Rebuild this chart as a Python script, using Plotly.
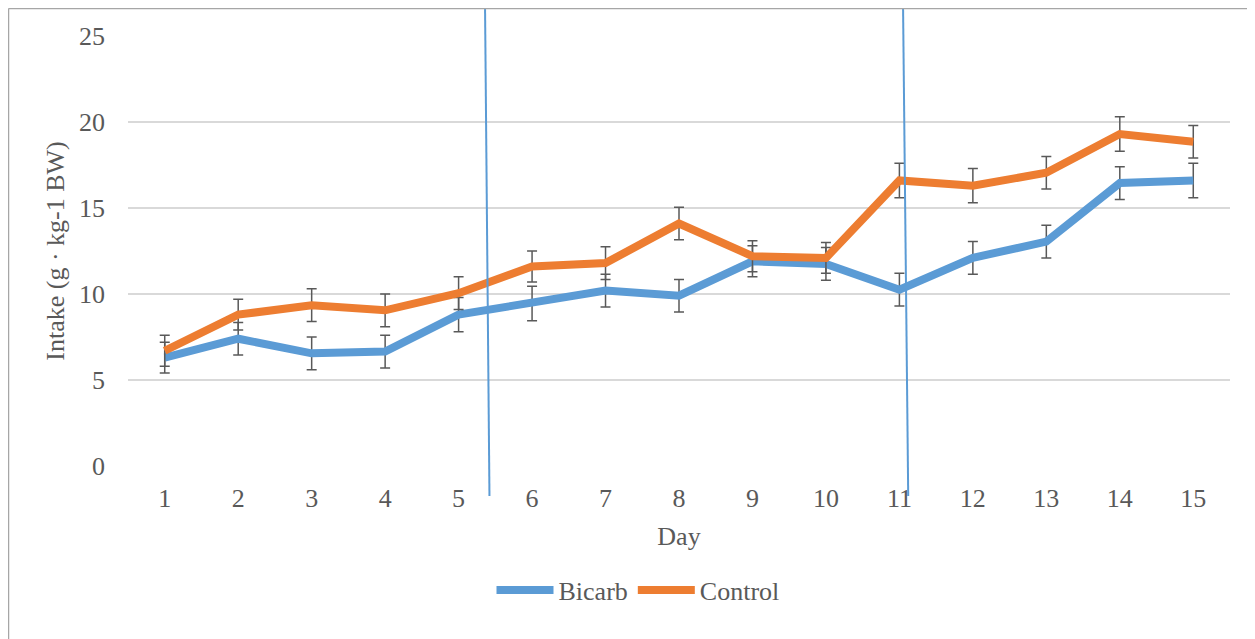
import plotly.graph_objects as go

days = list(range(1, 16))
day_labels = [str(d) for d in days]

bicarb = [6.3, 7.4, 6.55, 6.65, 8.8, 9.45, 10.2, 9.9, 11.9, 11.75, 10.25, 12.1, 13.05, 16.45, 16.6]
bicarb_err = [0.9, 0.95, 0.95, 0.95, 1.0, 1.0, 0.95, 0.95, 0.9, 0.95, 0.95, 0.95, 0.95, 0.95, 1.0]
control = [6.7, 8.8, 9.35, 9.05, 10.05, 11.6, 11.8, 14.1, 12.2, 12.1, 16.6, 16.3, 17.05, 19.3, 18.85]
control_err = [0.9, 0.9, 0.95, 0.95, 0.95, 0.9, 0.95, 0.95, 0.9, 0.9, 1.0, 1.0, 0.95, 1.0, 0.95]

y_ticks = [0, 5, 10, 15, 20, 25]

# phase separators (day positions at top / bottom of drawn line)
sep_top = [5.36, 11.05]
sep_bottom = [5.42, 11.12]

FONT = "Liberation Serif"
TXT = "#595959"
BLUE = "#5B9BD5"
ORANGE = "#ED7D31"

W, H = 1247, 631
L, R, T, B = 120, 25, 28, 173
pw, ph = W - L - R, H - T - B

def px_x(p):
    return (p - L) / pw

def px_y(p):
    return (H - B - p) / ph

fig = go.Figure()
for name, vals, errs, col in [("Bicarb", bicarb, bicarb_err, BLUE),
                              ("Control", control, control_err, ORANGE)]:
    fig.add_trace(go.Scatter(
        x=days, y=vals, name=name, mode="lines",
        line=dict(color=col, width=8),
        error_y=dict(type="data", array=errs, visible=True,
                     color="#595959", thickness=1.5, width=5),
    ))

shapes = []
for t, b in zip(sep_top, sep_bottom):
    shapes.append(dict(type="line", xref="x", yref="paper",
                       x0=t, x1=b, y0=px_y(0), y1=px_y(488),
                       line=dict(color=BLUE, width=2)))
# outer chart border (top and left edges visible)
shapes.append(dict(type="line", xref="paper", yref="paper",
                   x0=px_x(0.5), x1=px_x(W), y0=px_y(0.5), y1=px_y(0.5),
                   line=dict(color="#A6A6A6", width=1.5)))
shapes.append(dict(type="line", xref="paper", yref="paper",
                   x0=px_x(0.5), x1=px_x(0.5), y0=px_y(0.5), y1=px_y(H),
                   line=dict(color="#A6A6A6", width=1.5)))

fig.update_layout(
    width=W, height=H,
    margin=dict(l=L, r=R, t=T, b=B),
    paper_bgcolor="white", plot_bgcolor="white",
    font=dict(family=FONT, size=26, color=TXT),
    shapes=shapes,
    showlegend=True,
    legend=dict(orientation="h", x=px_x(630), xanchor="center", y=px_y(582), yanchor="middle",
                font=dict(family=FONT, size=26, color=TXT), itemwidth=57, tracegroupgap=0),
    xaxis=dict(range=[0.5, 15.5], tickmode="array", tickvals=days, ticktext=day_labels,
               showgrid=False, zeroline=False, showline=False, ticks="",
               ticklabelstandoff=14, tickfont=dict(family=FONT, size=26, color=TXT),
               title=dict(text="Day", standoff=14, font=dict(family=FONT, size=26, color=TXT))),
    yaxis=dict(range=[0, 25], tickmode="array", tickvals=y_ticks,
               showgrid=True, gridcolor="#D9D9D9", gridwidth=1.5,
               zeroline=False, showline=False, ticks="",
               ticklabelstandoff=22, tickfont=dict(family=FONT, size=26, color=TXT),
               title=dict(text="Intake (g · kg-1 BW)", standoff=6, font=dict(family=FONT, size=26, color=TXT))),
)

fig.write_html("out.html")
